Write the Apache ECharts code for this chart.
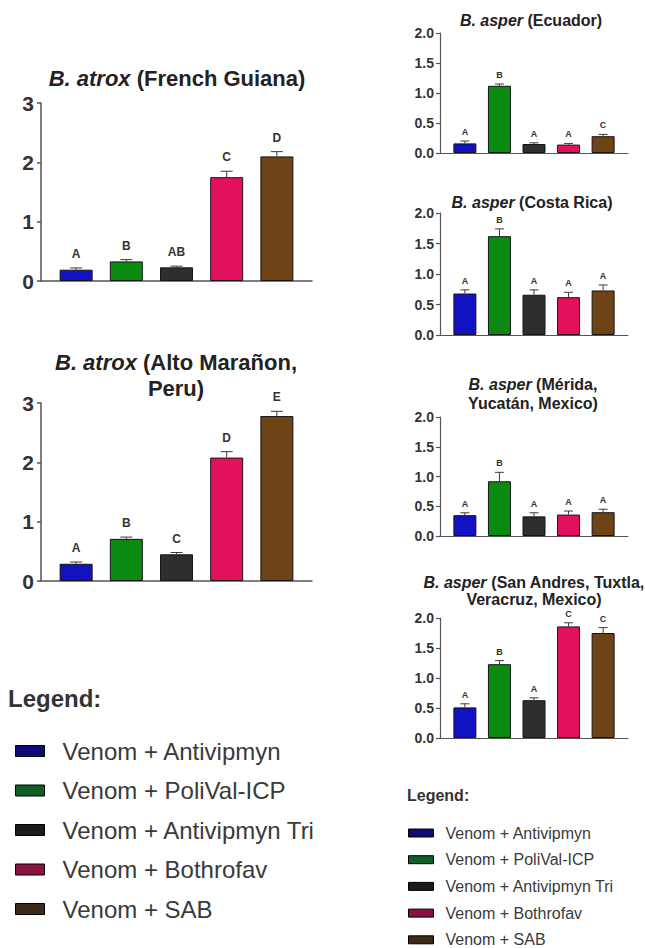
<!DOCTYPE html>
<html><head><meta charset="utf-8">
<script src="https://cdn.jsdelivr.net/npm/echarts@6/dist/echarts.min.js"></script>
<style>html,body{margin:0;padding:0;background:#fff}#c{width:645px;height:948px}</style>
</head><body><div id="c"></div>
<script>
// ---------- data ----------
const treatments = ['Venom + Antivipmyn', 'Venom + PoliVal-ICP', 'Venom + Antivipmyn Tri', 'Venom + Bothrofav', 'Venom + SAB'];

const atroxFGMean = [0.19, 0.33, 0.23, 1.75, 2.10];
const atroxFGErr = [0.03, 0.03, 0.02, 0.10, 0.08];
const atroxFGLetters = ['A', 'B', 'AB', 'C', 'D'];

const atroxAMMean = [0.29, 0.71, 0.45, 2.08, 2.78];
const atroxAMErr = [0.03, 0.03, 0.03, 0.10, 0.08];
const atroxAMLetters = ['A', 'B', 'C', 'D', 'E'];

const asperECMean = [0.16, 1.12, 0.15, 0.14, 0.28];
const asperECErr = [0.04, 0.03, 0.02, 0.02, 0.03];
const asperECLetters = ['A', 'B', 'A', 'A', 'C'];

const asperCRMean = [0.68, 1.62, 0.66, 0.62, 0.73];
const asperCRErr = [0.06, 0.12, 0.08, 0.08, 0.09];
const asperCRLetters = ['A', 'B', 'A', 'A', 'A'];

const asperMYMean = [0.35, 0.92, 0.33, 0.36, 0.40];
const asperMYErr = [0.04, 0.15, 0.06, 0.06, 0.05];
const asperMYLetters = ['A', 'B', 'A', 'A', 'A'];

const asperSAMean = [0.51, 1.23, 0.63, 1.86, 1.75];
const asperSAErr = [0.06, 0.06, 0.04, 0.06, 0.09];
const asperSALetters = ['A', 'B', 'A', 'C', 'C'];

const leftYMax = 3, leftYInterval = 1;
const rightYMax = 2, rightYInterval = 0.5;

const titleFG = ['{i|B. atrox}{n| (French Guiana)}'];
const titleAM = ['{i|B. atrox}{n| (Alto Marañon,}', '{n|Peru)}'];
const titleEC = ['{i|B. asper}{n| (Ecuador)}'];
const titleCR = ['{i|B. asper}{n| (Costa Rica)}'];
const titleMY = ['{i|B. asper}{n| (Mérida,}', '{n|Yucatán, Mexico)}'];
const titleSA = ['{i|B. asper}{n| (San Andres, Tuxtla,}', '{n|Veracruz, Mexico)}'];

// ---------- styles / layout ----------
const FONT = "'Liberation Sans', Arial, Helvetica, sans-serif";
const barColors = ['#1212c2', '#0b8a12', '#2e2e2e', '#e3115d', '#6e4316'];
const legendColors = ['#0c0c74', '#0f5e24', '#1b1b1b', '#8c1142', '#3c2b19'];

const panels = [
  { mean: atroxFGMean, err: atroxFGErr, letters: atroxFGLetters, title: titleFG, side: 'L',
    grid: { left: 41, top: 103, width: 271, height: 178 }, tx: 177, ty: 78, lh: 26 },
  { mean: atroxAMMean, err: atroxAMErr, letters: atroxAMLetters, title: titleAM, side: 'L',
    grid: { left: 41, top: 403, width: 271, height: 178 }, tx: 176, ty: 362, lh: 26 },
  { mean: asperECMean, err: asperECErr, letters: asperECLetters, title: titleEC, side: 'R',
    grid: { left: 440, top: 33, width: 188, height: 120 }, tx: 531, ty: 20, lh: 19 },
  { mean: asperCRMean, err: asperCRErr, letters: asperCRLetters, title: titleCR, side: 'R',
    grid: { left: 440, top: 213, width: 188, height: 122 }, tx: 532, ty: 202, lh: 19 },
  { mean: asperMYMean, err: asperMYErr, letters: asperMYLetters, title: titleMY, side: 'R',
    grid: { left: 440, top: 417, width: 188, height: 119 }, tx: 533, ty: 384, lh: 19 },
  { mean: asperSAMean, err: asperSAErr, letters: asperSALetters, title: titleSA, side: 'R',
    grid: { left: 440, top: 618, width: 188, height: 120 }, tx: 534, ty: 582, lh: 17 }
];

const S = {
  L: { xmin: -0.7, xmax: 4.7, ymax: leftYMax, yint: leftYInterval, barW: 33, tick: 21, title: 22,
       letter: 12, letterGap: 14, cap: 12, axisW: 1.5, dec: 0, margin: 7 },
  R: { xmin: -0.72, xmax: 4.72, ymax: rightYMax, yint: rightYInterval, barW: 23, tick: 14, title: 16,
       letter: 9, letterGap: 9, cap: 9, axisW: 1.2, dec: 1, margin: 6 }
};

const grids = [], xAxes = [], yAxes = [], series = [], graphics = [];

panels.forEach((p, gi) => {
  const s = S[p.side];
  grids.push(Object.assign({ containLabel: false }, p.grid));
  xAxes.push({
    gridIndex: gi, type: 'value', min: s.xmin, max: s.xmax,
    axisLine: { show: true, onZero: false, lineStyle: { color: '#555', width: s.axisW } },
    axisTick: { show: false }, axisLabel: { show: false }, splitLine: { show: false }
  });
  yAxes.push({
    gridIndex: gi, type: 'value', min: 0, max: s.ymax, interval: s.yint,
    axisLine: { show: true, onZero: false, lineStyle: { color: '#555', width: s.axisW } },
    axisTick: { show: true, inside: false, length: 4, lineStyle: { color: '#555', width: s.axisW } },
    axisLabel: { show: true, margin: s.margin, color: '#333', fontWeight: 'bold', fontSize: s.tick, fontFamily: FONT,
      formatter: v => v.toFixed(s.dec) },
    splitLine: { show: false }
  });
  treatments.forEach((t, k) => {
    series.push({
      type: 'bar', name: t, xAxisIndex: gi, yAxisIndex: gi,
      barWidth: s.barW, barGap: '-100%',
      data: [[k, p.mean[k]]],
      itemStyle: { color: barColors[k], borderColor: '#151515', borderWidth: 1 },
      animation: false
    });
  });
  const letters = p.letters;
  series.push({
    type: 'custom', xAxisIndex: gi, yAxisIndex: gi, z: 5, animation: false,
    data: p.mean.map((m, k) => [k, m, p.err[k]]),
    renderItem: (params, api) => {
      const x = api.value(0), m = api.value(1), e = api.value(2);
      const p0 = api.coord([x, m]);
      const p1 = api.coord([x, m + e]);
      const h = s.cap / 2;
      return {
        type: 'group',
        children: [
          { type: 'line', shape: { x1: p0[0], y1: p0[1], x2: p1[0], y2: p1[1] },
            style: { stroke: '#3a3a3a', lineWidth: 1 } },
          { type: 'line', shape: { x1: p1[0] - h, y1: p1[1], x2: p1[0] + h, y2: p1[1] },
            style: { stroke: '#3a3a3a', lineWidth: 1 } },
          { type: 'text', x: p1[0], y: p1[1] - s.letterGap,
            style: { text: letters[params.dataIndex], align: 'center', verticalAlign: 'middle',
              fill: '#333', font: 'bold ' + s.letter + 'px ' + FONT } }
        ]
      };
    }
  });
  p.title.forEach((line, li) => {
    graphics.push({
      type: 'text', x: p.tx, y: p.ty + li * p.lh,
      style: {
        text: line, align: 'center', verticalAlign: 'middle', fill: '#222',
        font: 'bold ' + s.title + 'px ' + FONT,
        rich: {
          i: { fontStyle: 'italic', fontWeight: 'bold', fontSize: s.title, fontFamily: FONT, fill: '#222' },
          n: { fontStyle: 'normal', fontWeight: 'bold', fontSize: s.title, fontFamily: FONT, fill: '#222' }
        }
      }
    });
  });
});

graphics.push({ type: 'text', x: 8, y: 698,
  style: { text: 'Legend:', align: 'left', verticalAlign: 'middle', fill: '#333', font: 'bold 24px ' + FONT } });
graphics.push({ type: 'text', x: 407, y: 795,
  style: { text: 'Legend:', align: 'left', verticalAlign: 'middle', fill: '#333', font: 'bold 16px ' + FONT } });

const legendData = treatments.map((t, k) => ({
  name: t, itemStyle: { color: legendColors[k], borderColor: '#000', borderWidth: 1 }
}));

const option = {
  animation: false,
  backgroundColor: '#fff',
  grid: grids, xAxis: xAxes, yAxis: yAxes, series: series, graphic: graphics,
  legend: [
    { orient: 'vertical', left: 15, top: 739, padding: 0, icon: 'rect', itemWidth: 29, itemHeight: 11,
      itemGap: 15.5, selectedMode: false, data: legendData,
      textStyle: { fontSize: 24, lineHeight: 24, color: '#3a3a3a', fontFamily: FONT, padding: [0, 0, 0, 13] } },
    { orient: 'vertical', left: 408, top: 825, padding: 0, icon: 'rect', itemWidth: 25, itemHeight: 8,
      itemGap: 10.7, selectedMode: false, data: legendData,
      textStyle: { fontSize: 16, lineHeight: 16, color: '#3a3a3a', fontFamily: FONT, padding: [0, 0, 0, 7] } }
  ]
};

const chart = echarts.init(document.getElementById('c'), null, { renderer: 'svg', width: 645, height: 948 });
chart.setOption(option);
</script>
</body></html>
